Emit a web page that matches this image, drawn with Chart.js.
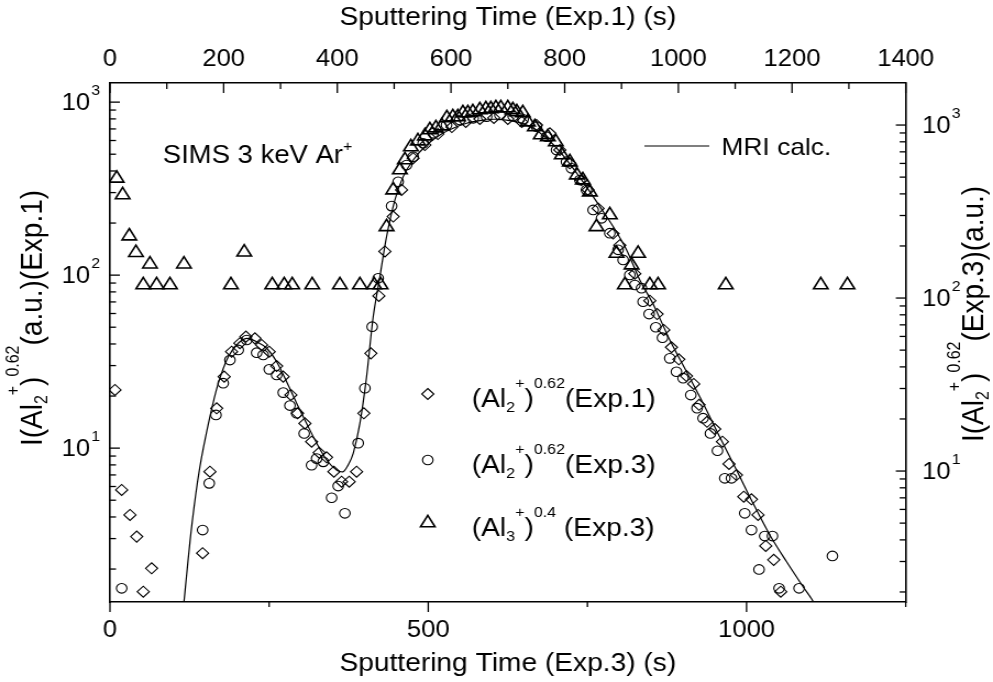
<!DOCTYPE html>
<html>
<head>
<meta charset="utf-8">
<title>SIMS depth profile</title>
<script src="https://cdn.jsdelivr.net/npm/chart.js@4.4.1/dist/chart.umd.min.js"></script>
<style>
  html, body { margin: 0; padding: 0; background: #fff; }
</style>
</head>
<body>
<canvas id="profile" width="903" height="682" style="display:block;width:993px;height:682px"></canvas>
<script>
// Exp.1 diamonds: sputtering time on the top axis, intensity on the left axis
const diamondTime = [8.8, 20.6, 35.2, 47, 58.6, 73.3, 163, 175.9, 187.7, 201,
  214, 228.6, 239.2, 255, 266.8, 280.2, 293.2, 304.8, 318.3, 330.1,
  343, 354.8, 368.1, 381.1, 394, 407.5, 420.9, 433.9, 446.7, 459,
  473.1, 483.7, 498.3, 513, 533.4, 554, 576.9, 601.5, 626.1, 650.8,
  675.4, 700, 724.6, 750.5, 773.9, 791.5, 809, 829.6, 841.2, 858.8,
  885.2, 897, 923.4, 949.8, 962.6, 974.4, 987.9, 1000.8, 1014.3, 1027.1,
  1036.5, 1050.5, 1064.1, 1077.6, 1089.2, 1102.2, 1115.1, 1128.6, 1140.2, 1153.8, 1167.8, 1180.2];
const diamondSignal = [21.7, 5.73, 4.11, 3.08, 1.48, 2.02, 2.47, 7.31, 17.0, 25.9,
  36.1, 40.4, 44.1, 43.1, 39.5, 36.1, 29.8, 25.9, 20.3, 15.9,
  13.9, 10.9, 9.41, 8.85, 7.31, 6.40, 6.40, 7.31, 15.9, 35.3,
  75.8, 137, 218, 311, 474, 565, 654, 718, 768, 799,
  810, 799, 768, 738, 660, 529, 443, 355, 311, 243,
  174, 149, 102, 71.2, 59.6, 48.2, 38.3, 32.6, 26.1, 23.5,
  17.8, 14.2, 12.9, 10.9, 8.10, 6.99, 5.24, 5.06, 4.11, 2.72, 2.26, 1.48];

// Exp.3 circles: bottom axis time, right axis intensity
const circleTime = [18.4, 145.6, 155.9, 166.5, 177.9, 188.4, 201.5, 214.7, 230.4, 240.7,
  250.2, 261.8, 272.2, 282.7, 293.2, 305.1, 316.7, 324.6, 335, 348.2,
  358.5, 369, 389.9, 400.5, 411.9, 421.3, 442.4, 452.7, 465.9, 476.3,
  492, 507.7, 528.7, 549.6, 570.5, 591.6, 612.5, 633.3, 649, 670.1,
  685.8, 701.5, 717.2, 725, 738.1, 748.6, 759, 772.2, 785.2, 798.2,
  806.1, 816.6, 824.5, 835, 837.5, 846.9, 857.4, 867.9, 879.4, 889.9,
  900.3, 912.4, 922.3, 931.7, 943.3, 954.3, 965.8, 976.3, 997.2, 1007.7,
  1019.6, 1028.6, 1040.7, 1051.1, 1082.5, 1134.9];
const circleSignal = [2.10, 4.56, 8.49, 21.1, 32.2, 43.8, 50.1, 57.2, 48.3, 46.9,
  38.7, 35.9, 28.4, 23.9, 21.6, 16.5, 10.8, 11.8, 11.3, 7.01,
  8.19, 5.70, 14.5, 30.1, 68.3, 130, 340, 470, 587, 656,
  784, 896, 1000, 1069, 1094, 1117, 1143, 1128, 1080, 978,
  856, 717, 614, 562, 481, 421, 323, 289, 237, 190,
  166, 136, 119, 114, 95.2, 80.8, 67.8, 59.0, 44.8, 37.5,
  34.4, 27.5, 23.1, 20.2, 16.5, 13.1, 9.08, 9.08, 5.70, 4.56,
  2.70, 4.21, 4.21, 2.10, 2.10, 3.23];

// Exp.3 triangles (Al3+): bottom axis time, right axis intensity
const triangleTime = [10.5, 19.9, 30.3, 40.8, 52.3, 62.8, 73.3, 94.2, 116.2, 190,
  210.9, 254.9, 273.7, 286.3, 317.7, 361.2, 392.6, 415.1, 425.1, 434.5,
  444.9, 455.4, 463.3, 472.7, 483.7, 494.7, 502.5, 512, 521.4, 529.2,
  538.6, 546.5, 554.4, 562.2, 570, 581, 590.5, 598.3, 606.2, 614,
  625, 632.9, 639.1, 648.5, 656.4, 667.4, 676.8, 687.8, 700.4, 709.8,
  722.4, 733.4, 742.8, 753.8, 764.3, 785.2, 795.7, 808.8, 819.3, 829.6,
  848, 861, 967.4, 1116.6, 1158.5];
const triangleSignal = [492, 394, 228, 183, 119, 157, 119, 119, 157, 119,
  184, 119, 119, 119, 119, 119, 119, 119, 119, 258,
  421, 550, 628, 747, 808, 864, 936, 961, 987, 1098,
  1113, 1113, 1174, 1174, 1190, 1222, 1238, 1238, 1255, 1255,
  1255, 1222, 1190, 1174, 1041, 974, 876, 853, 798, 671,
  611, 514, 481, 410, 258, 302, 181, 119, 155, 181,
  119, 119, 119, 119, 119];

// MRI calculation: bottom axis time, left axis intensity
const mriTime = [111.5, 116.2, 128.3, 141.3, 157, 170.1, 185.8, 201.5, 214.7, 230.4,
  246.1, 261.8, 277.5, 293.2, 308.9, 324.6, 340.3, 356, 366.4, 374.2,
  382.1, 392.6, 403.1, 413.5, 424, 434.5, 447.6, 460.6, 476.3, 497.3,
  518.2, 539.1, 560.2, 581, 601.9, 623, 643.9, 664.7, 685.8, 706.7,
  727.6, 748.6, 769.5, 790.4, 811.4, 832.3, 853.2, 879.4, 905.6, 931.7,
  957.9, 984.2, 1010.2, 1036.5, 1062.7, 1088.8, 1103.5, 1108.7];
const mriSignal = [0.889, 1.29, 3.52, 7.81, 15.2, 23.7, 33.8, 40.4, 43.1, 41.2,
  37.8, 31.6, 24.2, 18.2, 13.9, 10.7, 8.54, 7.47, 7.31, 7.99,
  9.33, 13.9, 25.9, 57.5, 97.9, 167, 272, 371, 463, 565,
  646, 706, 755, 781, 796, 788, 761, 706, 618, 517,
  414, 324, 249, 191, 140, 93.7, 68.1, 42.2, 27.7, 18.2,
  11.6, 7.47, 4.80, 3.15, 2.21, 1.58, 1.32, 1.19];

const bottomLabels = [0, 500, 1000];
const topLabels = [0, 200, 400, 600, 800, 1000, 1200, 1400];
const seriesNames = ['(Al_{2}^{+})^{0.62}(Exp.1)', '(Al_{2}^{+})^{0.62}(Exp.3)', '(Al_{3}^{+})^{0.4} (Exp.3)'];

const FONT = '"Liberation Sans", Arial, sans-serif';
const TICK_SIZE = 23.3;
const TEXT_SIZE = 25.6;

Chart.defaults.font.family = FONT;
Chart.defaults.color = '#000';

function pairs(xs, ys) {
  return xs.map((x, i) => ({ x: x, y: ys[i] }));
}

function setFont(ctx, size) {
  ctx.font = size + 'px ' + FONT;
}

// "A_{2}^{+}" -> pieces with sub / sup flags
function richParts(str) {
  const parts = [];
  const re = /([_^])\{([^}]*)\}|([^_^]+)/g;
  let m;
  while ((m = re.exec(str))) {
    if (m[3]) parts.push({ t: m[3], s: '' });
    else parts.push({ t: m[2], s: m[1] === '^' ? 'sup' : 'sub' });
  }
  return parts;
}

function richWidth(ctx, str, size) {
  return richParts(str).reduce((w, p) => {
    setFont(ctx, p.s ? size * 0.57 : size);
    return w + ctx.measureText(p.t).width;
  }, 0);
}

function drawRich(ctx, str, x, y, size, rise) {
  const up = rise === undefined ? 0.74 : rise;
  ctx.textAlign = 'left';
  ctx.textBaseline = 'alphabetic';
  richParts(str).forEach(p => {
    setFont(ctx, p.s ? size * 0.57 : size);
    const dy = p.s === 'sup' ? -up * size : (p.s === 'sub' ? 0.18 * size : 0);
    ctx.fillText(p.t, x, y + dy);
    x += ctx.measureText(p.t).width;
  });
}

function drawVertical(ctx, str, x, cy, size) {
  ctx.save();
  ctx.translate(x, cy);
  ctx.rotate(-Math.PI / 2);
  drawRich(ctx, str, -richWidth(ctx, str, size) / 2, 0, size);
  ctx.restore();
}

function marker(ctx, style, r, x, y, bw) {
  ctx.lineWidth = bw;
  ctx.beginPath();
  if (style === 'circle') {
    ctx.arc(x, y, r, 0, Math.PI * 2);
  } else if (style === 'rectRot') {
    ctx.moveTo(x, y - r); ctx.lineTo(x + r, y); ctx.lineTo(x, y + r); ctx.lineTo(x - r, y);
    ctx.closePath();
  } else {
    ctx.moveTo(x, y - r); ctx.lineTo(x + 0.866 * r, y + 0.5 * r); ctx.lineTo(x - 0.866 * r, y + 0.5 * r);
    ctx.closePath();
  }
  ctx.stroke();
}

function logTicks(min, max) {
  const out = [];
  for (let e = Math.floor(Math.log10(min)); e <= Math.ceil(Math.log10(max)); e++) {
    for (let m = 1; m < 10; m++) {
      const v = m * Math.pow(10, e);
      if (v >= min && v <= max) out.push({ v: v, e: e, major: m === 1 });
    }
  }
  return out;
}

function drawPow(ctx, e, x, py, alignRight) {
  setFont(ctx, TICK_SIZE);
  const w1 = ctx.measureText('10').width;
  const ss = TICK_SIZE * 0.62;
  setFont(ctx, ss);
  const w2 = ctx.measureText(String(e)).width;
  const x0 = alignRight ? x - w1 - w2 - 1 : x;
  const base = py + 0.358 * TICK_SIZE;
  ctx.textAlign = 'left';
  ctx.textBaseline = 'alphabetic';
  setFont(ctx, TICK_SIZE);
  ctx.fillText('10', x0, base);
  setFont(ctx, ss);
  ctx.fillText(String(e), x0 + w1 + 1, base - 0.66 * TICK_SIZE);
}

// frame ticks, log labels, axis titles with scripts, legend and notes
const decor = {
  id: 'decor',
  afterDraw(chart) {
    const ctx = chart.ctx;
    const area = chart.chartArea;
    const sx = chart.scales.x, sx2 = chart.scales.x2, sy = chart.scales.y, sy2 = chart.scales.y2;
    ctx.save();
    ctx.strokeStyle = '#000';
    ctx.fillStyle = '#000';
    ctx.lineWidth = 1.3;
    const seg = (a, b, c, d) => { ctx.beginPath(); ctx.moveTo(a, b); ctx.lineTo(c, d); ctx.stroke(); };

    sx.ticks.forEach(t => {
      const p = sx.getPixelForValue(t.value);
      seg(p, area.bottom, p, area.bottom + (bottomLabels.includes(t.value) ? 10 : 5));
    });
    sx2.ticks.forEach(t => {
      const p = sx2.getPixelForValue(t.value);
      seg(p, area.top, p, area.top + (topLabels.includes(t.value) ? 10 : 6));
    });
    [[sy, area.left, 1], [sy2, area.right, -1]].forEach(([s, edge, dir]) => {
      logTicks(s.min, s.max).forEach(t => {
        const p = s.getPixelForValue(t.v);
        ctx.lineWidth = 1.3;
        seg(edge, p, edge + dir * (t.major ? 9 : 5.5), p);
        if (t.major) {
          if (dir > 0) drawPow(ctx, t.e, edge - 9, p, true);
          else drawPow(ctx, t.e, edge + 15, p, false);
        }
      });
    });

    drawVertical(ctx, 'I(Al_{2}^{+})^{0.62}(a.u.)(Exp.1)', 37.5, 318, 28);
    drawVertical(ctx, 'I(Al_{2}^{+})^{0.62}(Exp.3)(a.u.)', 893.5, 314, 28);

    drawRich(ctx, 'SIMS 3 keV Ar^{+}', 148, 163, 25, 0.5);

    // line legend
    ctx.lineWidth = 1.2;
    seg(586, 146, 645, 146);
    drawRich(ctx, 'MRI calc.', 656, 154.5, 24);

    // symbol legend
    const rows = [394, 460, 523];
    [1, 2, 3].forEach((di, i) => {
      const ds = chart.data.datasets[di];
      marker(ctx, ds.pointStyle, ds.pointRadius, 389, rows[i], ds.borderWidth);
      ctx.fillStyle = '#000';
      drawRich(ctx, seriesNames[i], 429, rows[i] + 13, TEXT_SIZE);
    });
    ctx.restore();
  }
};

const axisBorder = { display: true, color: '#000', width: 1.6 };
const noGrid = { drawOnChartArea: false, drawTicks: false };

new Chart(document.getElementById('profile'), {
  type: 'scatter',
  data: {
    datasets: [
      {
        label: 'MRI calc.',
        type: 'line',
        data: pairs(mriTime, mriSignal),
        xAxisID: 'x', yAxisID: 'y',
        borderColor: '#000', borderWidth: 1.2,
        pointRadius: 0, tension: 0.3, fill: false, clip: 0
      },
      {
        label: seriesNames[0],
        data: pairs(diamondTime, diamondSignal),
        xAxisID: 'x2', yAxisID: 'y',
        pointStyle: 'rectRot', pointRadius: 5.5, borderWidth: 1.1,
        borderColor: '#000', backgroundColor: 'rgba(0,0,0,0)'
      },
      {
        label: seriesNames[1],
        data: pairs(circleTime, circleSignal),
        xAxisID: 'x', yAxisID: 'y2',
        pointStyle: 'circle', pointRadius: 4.8, borderWidth: 1.1,
        borderColor: '#000', backgroundColor: 'rgba(0,0,0,0)'
      },
      {
        label: seriesNames[2],
        data: pairs(triangleTime, triangleSignal),
        xAxisID: 'x', yAxisID: 'y2',
        pointStyle: 'triangle', pointRadius: 7.6, borderWidth: 1.6,
        borderColor: '#000', backgroundColor: 'rgba(0,0,0,0)'
      }
    ]
  },
  options: {
    responsive: false,
    devicePixelRatio: 1,
    animation: false,
    layout: { padding: 0 },
    plugins: { legend: { display: false }, tooltip: { enabled: false } },
    scales: {
      x: {
        type: 'linear', position: 'bottom', min: 0, max: 1250,
        afterFit: s => { s.height = 80; },
        border: axisBorder, grid: noGrid,
        ticks: {
          stepSize: 250, autoSkip: false, maxRotation: 0, padding: 15,
          font: { size: TICK_SIZE }, color: '#000',
          callback: v => bottomLabels.includes(v) ? String(v) : ''
        },
        title: { display: true, text: 'Sputtering Time (Exp.3) (s)', color: '#000',
          font: { size: TEXT_SIZE }, padding: { top: 0, bottom: 3 } }
      },
      x2: {
        type: 'linear', position: 'top', min: 0, max: 1400,
        afterFit: s => { s.height = 83; },
        border: axisBorder, grid: noGrid,
        ticks: {
          stepSize: 100, autoSkip: false, maxRotation: 0, padding: 9,
          font: { size: TICK_SIZE }, color: '#000',
          callback: v => topLabels.includes(v) ? String(v) : ''
        },
        title: { display: true, text: 'Sputtering Time (Exp.1) (s)', color: '#000',
          font: { size: TEXT_SIZE }, padding: { top: 3, bottom: 0 } }
      },
      y: {
        type: 'logarithmic', position: 'left', min: 1.29, max: 1290,
        afterFit: s => { s.width = 100; },
        border: axisBorder, grid: noGrid,
        ticks: { display: false }
      },
      y2: {
        type: 'logarithmic', position: 'right', min: 1.75, max: 1750,
        afterFit: s => { s.width = 79.4; },
        border: axisBorder, grid: noGrid,
        ticks: { display: false }
      }
    }
  },
  plugins: [decor]
});
</script>
</body>
</html>
